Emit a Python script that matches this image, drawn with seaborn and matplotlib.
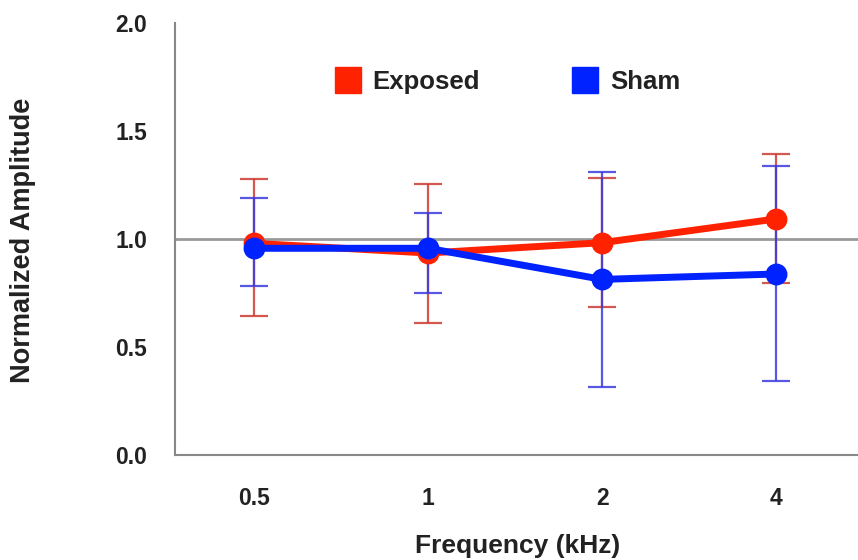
import matplotlib
matplotlib.use("Agg")
import matplotlib.pyplot as plt
from matplotlib.lines import Line2D
import seaborn as sns
import pandas as pd

# ---- data ----
frequencies = ["0.5", "1", "2", "4"]
exposed_mean = [0.98, 0.935, 0.983, 1.093]
exposed_low = [0.643, 0.612, 0.684, 0.795]
exposed_high = [1.278, 1.253, 1.281, 1.392]
sham_mean = [0.957, 0.957, 0.813, 0.838]
sham_low = [0.782, 0.749, 0.316, 0.344]
sham_high = [1.191, 1.122, 1.312, 1.338]
groups = ["Exposed", "Sham"]
y_ticks = [0.0, 0.5, 1.0, 1.5, 2.0]

RED = "#ff2200"
BLUE = "#0022ff"
RED_ERR = "#cc3b33"
BLUE_ERR = "#3b3bdd"

sns.set_theme(style="white")
plt.rcParams["font.family"] = ["Liberation Sans", "DejaVu Sans"]
plt.rcParams["font.weight"] = "bold"

df = pd.DataFrame({
    "Frequency": frequencies * 2,
    "Amplitude": exposed_mean + sham_mean,
    "Group": [groups[0]] * 4 + [groups[1]] * 4,
})

fig = plt.figure(figsize=(8.58, 5.60), dpi=100)
ax = fig.add_axes([175 / 858, 105 / 560, 683 / 858, 432 / 560])

# reference line
ax.axhline(1.0, color="#999999", lw=2, zorder=0.5)

# error bars
pos = list(range(len(frequencies)))
for mean, lo, hi, col in [(exposed_mean, exposed_low, exposed_high, RED_ERR),
                          (sham_mean, sham_low, sham_high, BLUE_ERR)]:
    yerr = [[m - l for m, l in zip(mean, lo)], [h - m for m, h in zip(mean, hi)]]
    ax.errorbar(pos, mean, yerr=yerr, fmt="none", ecolor=col, elinewidth=1.6,
                capsize=10, capthick=1.6, alpha=0.85, zorder=1)

sns.pointplot(data=df, x="Frequency", y="Amplitude", hue="Group",
              order=frequencies, hue_order=groups,
              palette={"Exposed": RED, "Sham": BLUE}, errorbar=None,
              markers="o", markersize=12, linewidth=5, dodge=False,
              legend=False, ax=ax)

ax.set_xlim(-0.454, 3.47)
ax.set_ylim(0, 2.0)
ax.set_yticks(y_ticks)
ax.set_yticklabels([f"{v:.1f}" for v in y_ticks])

for side in ["top", "right"]:
    ax.spines[side].set_visible(False)
for side in ["left", "bottom"]:
    ax.spines[side].set_color("#888888")
    ax.spines[side].set_linewidth(1.5)

ax.tick_params(axis="both", length=0, labelsize=16.5, colors="#222222")
ax.tick_params(axis="x", pad=23)
ax.tick_params(axis="y", pad=20)
for lab in ax.get_xticklabels() + ax.get_yticklabels():
    lab.set_fontweight("bold")

ax.set_xlabel("Frequency (kHz)", fontsize=19, fontweight="bold", color="#222222")
ax.set_ylabel("Normalized Amplitude", fontsize=19.5, fontweight="bold", color="#222222")
ax.xaxis.set_label_coords(0.502, -0.183)
ax.yaxis.set_label_coords(-0.203, 0.497)

handles = [Line2D([], [], marker="s", linestyle="none", markersize=19,
                  markerfacecolor=RED, markeredgecolor=RED),
           Line2D([], [], marker="s", linestyle="none", markersize=19,
                  markerfacecolor=BLUE, markeredgecolor=BLUE)]
leg = ax.legend(handles, groups, ncol=2, loc="center", bbox_to_anchor=(0.486, 0.863),
                frameon=False, fontsize=18.5, columnspacing=3.55, handletextpad=0.4,
                handlelength=1.1)
for t in leg.get_texts():
    t.set_fontweight("bold")
    t.set_color("#222222")

fig.savefig("out.png", dpi=100, facecolor="white")
